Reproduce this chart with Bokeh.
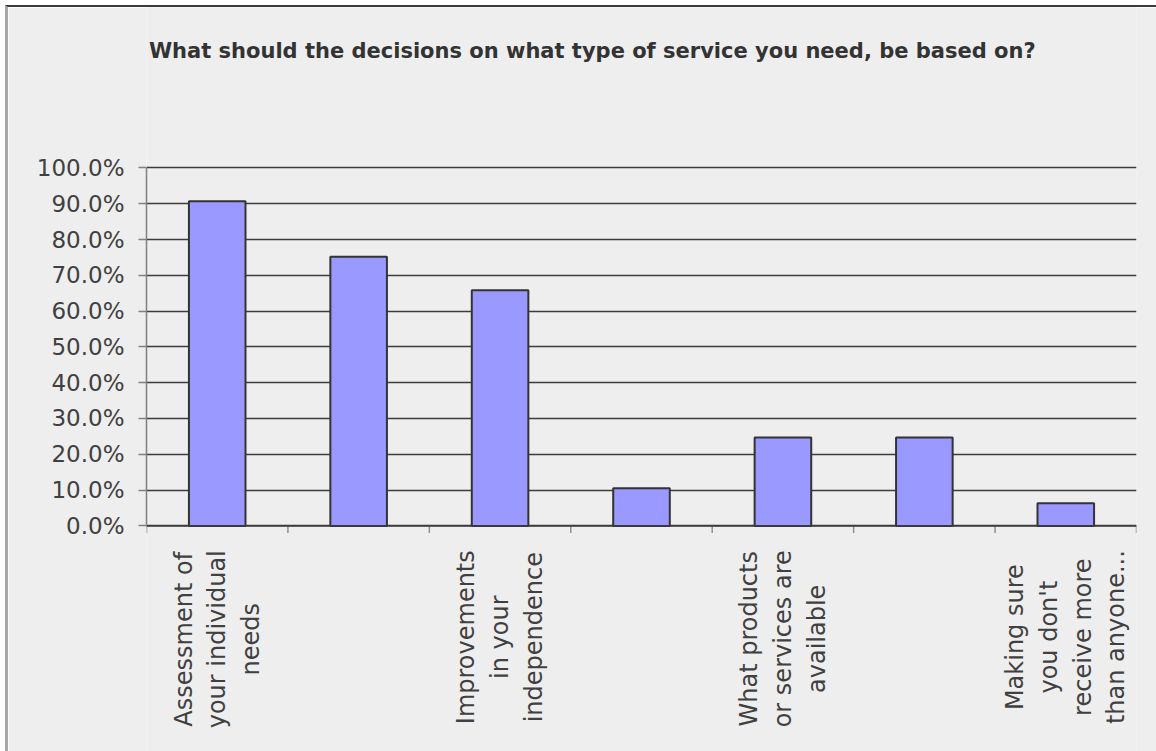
import numpy as np
from bokeh.plotting import figure
from bokeh.models import Range1d, FixedTicker, NumeralTickFormatter, Label, ColumnDataSource, Span
from bokeh.embed import file_html
from bokeh.resources import INLINE

title = "What should the decisions on what type of service you need, be based on?"
categories = [
    "Assessment of\nyour individual\nneeds",
    "",
    "Improvements\nin your\nindependence",
    "",
    "What products\nor services are\navailable",
    "",
    "Making sure\nyou don't\nreceive more\nthan anyone...",
]
values = [0.907, 0.752, 0.658, 0.105, 0.247, 0.247, 0.063]
y_ticks = [0.0, 0.1, 0.2, 0.3, 0.4, 0.5, 0.6, 0.7, 0.8, 0.9, 1.0]

FONT = "DejaVu Sans"
BG = "#eeeeee"
TXT = "#404040"

n = len(categories)
xc = [i + 0.5 for i in range(n)]
bounds = list(range(n + 1))
src = ColumnDataSource(dict(x=xc, top=values))

# frame spans the whole chart area so that title and category labels can sit inside it
p = figure(width=1151, height=746, output_backend="svg", toolbar_location=None,
           x_range=Range1d(0, n), y_range=Range1d(-0.6359, 1.4482),
           x_axis_location=None,
           min_border_left=138, min_border_right=23, min_border_top=0, min_border_bottom=0)
p.margin = (5, 0, 0, 5)
p.styles = {"border-top": "2px solid #3a3a3a", "border-left": "3px solid #a8a8a8", "box-sizing": "border-box"}
p.background_fill_color = BG
p.border_fill_color = BG
p.outline_line_color = None

p.vbar(x="x", top="top", width=0.4, bottom=0, source=src,
       fill_color="#9999ff", line_color="#333333", line_width=2)

# y axis (limited to 0..100%)
p.yaxis.ticker = FixedTicker(ticks=y_ticks)
p.yaxis.bounds = (0, 1)
p.yaxis.formatter = NumeralTickFormatter(format="0.0%")
p.yaxis.major_label_text_font = FONT
p.yaxis.major_label_text_font_size = "23px"
p.yaxis.major_label_text_color = TXT
p.yaxis.axis_line_color = "#808080"
p.yaxis.axis_line_width = 1.5
p.yaxis.major_tick_line_color = "#808080"
p.yaxis.major_tick_line_width = 1.5
p.yaxis.major_tick_out = 8
p.yaxis.major_tick_in = 0
p.yaxis.minor_tick_line_color = None
p.yaxis.major_label_standoff = 14

p.ygrid.ticker = FixedTicker(ticks=y_ticks)
p.ygrid.grid_line_color = "#3c3c3c"
p.ygrid.grid_line_width = 1.5
p.xgrid.grid_line_color = None

# category axis: baseline, boundary ticks and centred multi-line labels
p.add_layout(Span(location=0, dimension="width", line_color="#3c3c3c", line_width=1.5))
p.segment(x0=bounds, y0=[0] * len(bounds), x1=bounds, y1=[-0.02] * len(bounds),
          line_color="#909090", line_width=1.5)

for x, lab in zip(xc, categories):
    if lab:
        p.add_layout(Label(x=x, y=-0.068, text=lab, angle=np.pi / 2, anchor="center_right",
                           text_align="center", text_baseline="middle",
                           text_font=FONT, text_font_size="24px", text_color=TXT))

p.add_layout(Label(x=3.152, y=1.328, text=title, text_align="center", text_baseline="middle",
                   text_font=FONT, text_font_style="bold", text_font_size="21px",
                   text_color="#333333"))

open("out.html", "w").write(file_html(p, INLINE))
